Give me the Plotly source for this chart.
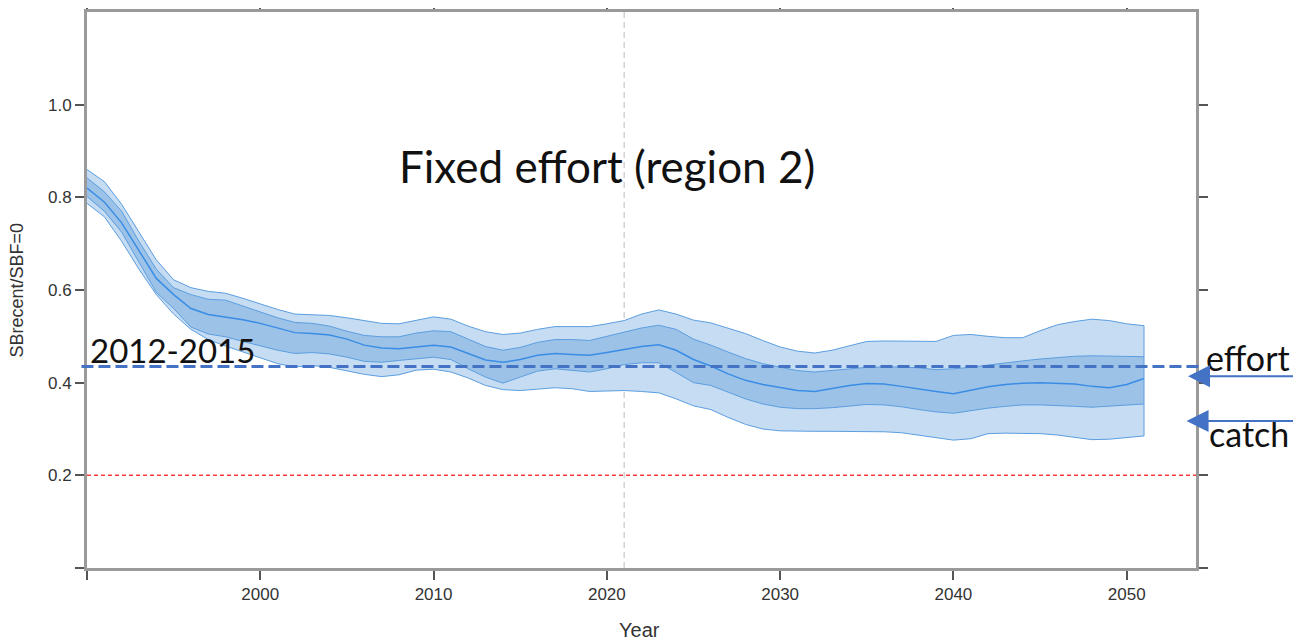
import plotly.graph_objects as go

years = list(range(1990, 2052))

outer_top = [0.860, 0.834, 0.785, 0.725, 0.665, 0.622, 0.605, 0.597, 0.593, 0.582,
             0.570, 0.558, 0.548, 0.546, 0.545, 0.540, 0.534, 0.528, 0.527, 0.535,
             0.542, 0.537, 0.522, 0.510, 0.504, 0.507, 0.515, 0.521, 0.521, 0.521,
             0.527, 0.534, 0.548, 0.557, 0.548, 0.535, 0.529, 0.518, 0.506, 0.491,
             0.477, 0.468, 0.464, 0.470, 0.480, 0.489, 0.490, 0.490, 0.490, 0.489,
             0.502, 0.504, 0.500, 0.497, 0.497, 0.512, 0.525, 0.532, 0.537, 0.534,
             0.527, 0.523]
inner_top = [0.842, 0.812, 0.770, 0.705, 0.645, 0.605, 0.590, 0.580, 0.578, 0.565,
             0.553, 0.540, 0.530, 0.528, 0.522, 0.511, 0.502, 0.499, 0.499, 0.507,
             0.512, 0.510, 0.494, 0.478, 0.470, 0.476, 0.487, 0.493, 0.493, 0.491,
             0.500, 0.509, 0.518, 0.524, 0.515, 0.494, 0.481, 0.466, 0.452, 0.441,
             0.434, 0.426, 0.423, 0.426, 0.429, 0.433, 0.434, 0.434, 0.432, 0.428,
             0.430, 0.433, 0.438, 0.443, 0.447, 0.451, 0.454, 0.457, 0.458, 0.457,
             0.456, 0.456]
median = [0.820, 0.790, 0.745, 0.685, 0.625, 0.590, 0.560, 0.547, 0.542, 0.536,
          0.528, 0.518, 0.508, 0.506, 0.503, 0.494, 0.481, 0.475, 0.473, 0.477,
          0.481, 0.477, 0.463, 0.449, 0.444, 0.450, 0.459, 0.463, 0.461, 0.459,
          0.465, 0.471, 0.478, 0.482, 0.470, 0.450, 0.436, 0.419, 0.405, 0.396,
          0.390, 0.383, 0.381, 0.387, 0.394, 0.398, 0.397, 0.392, 0.386, 0.381,
          0.376, 0.384, 0.391, 0.396, 0.399, 0.400, 0.399, 0.397, 0.392, 0.389,
          0.396, 0.409]
inner_bot = [0.802, 0.770, 0.725, 0.660, 0.595, 0.560, 0.520, 0.505, 0.499, 0.489,
             0.480, 0.470, 0.463, 0.465, 0.462, 0.455, 0.446, 0.444, 0.448, 0.452,
             0.455, 0.450, 0.430, 0.412, 0.399, 0.412, 0.425, 0.430, 0.426, 0.423,
             0.430, 0.439, 0.443, 0.443, 0.422, 0.400, 0.394, 0.380, 0.365, 0.354,
             0.347, 0.344, 0.344, 0.346, 0.350, 0.353, 0.352, 0.348, 0.342, 0.337,
             0.334, 0.340, 0.345, 0.349, 0.352, 0.352, 0.351, 0.349, 0.347, 0.349,
             0.352, 0.354]
outer_bot = [0.787, 0.758, 0.705, 0.645, 0.590, 0.548, 0.515, 0.493, 0.479, 0.466,
             0.453, 0.441, 0.434, 0.437, 0.433, 0.425, 0.418, 0.413, 0.417, 0.427,
             0.429, 0.423, 0.410, 0.394, 0.385, 0.383, 0.386, 0.389, 0.387, 0.381,
             0.382, 0.383, 0.381, 0.378, 0.365, 0.350, 0.342, 0.325, 0.310, 0.300,
             0.296, 0.295, 0.295, 0.295, 0.295, 0.295, 0.294, 0.292, 0.287, 0.282,
             0.276, 0.279, 0.290, 0.291, 0.291, 0.290, 0.287, 0.282, 0.277, 0.278,
             0.281, 0.285]

x_tickvals = [1990, 2000, 2010, 2020, 2030, 2040, 2050]
x_ticktext = ["", "2000", "2010", "2020", "2030", "2040", "2050"]
y_tickvals = [0.0, 0.2, 0.4, 0.6, 0.8, 1.0]
y_ticktext = ["", "0.2", "0.4", "0.6", "0.8", "1.0"]

ref_2012_2015 = 0.435
limit_ref = 0.2
current_year = 2021

OUTER_FILL = "#C6DCF2"
INNER_FILL = "#9DC2E7"
EDGE = "#5B9EE0"
MED = "#3A8DE5"
OFFICE_BLUE = "#4472C4"

fig = go.Figure()
fig.add_trace(go.Scatter(x=years, y=outer_bot, mode="lines",
                         line=dict(color=EDGE, width=1), showlegend=False))
fig.add_trace(go.Scatter(x=years, y=outer_top, mode="lines", fill="tonexty",
                         fillcolor=OUTER_FILL, line=dict(color=EDGE, width=1), showlegend=False))
fig.add_trace(go.Scatter(x=years, y=inner_bot, mode="lines",
                         line=dict(color=EDGE, width=1), showlegend=False))
fig.add_trace(go.Scatter(x=years, y=inner_top, mode="lines", fill="tonexty",
                         fillcolor=INNER_FILL, line=dict(color=EDGE, width=1), showlegend=False))
fig.add_trace(go.Scatter(x=years, y=median, mode="lines",
                         line=dict(color=MED, width=1.5), showlegend=False))
fig.add_trace(go.Scatter(x=[years[-1], years[-1]], y=[outer_bot[-1], outer_top[-1]], mode="lines",
                         line=dict(color=EDGE, width=1), showlegend=False))

fig.add_shape(type="line", xref="x", yref="y", x0=current_year, x1=current_year, y0=0, y1=1.2,
              line=dict(color="#C8C8C8", width=1.2, dash="6px,4px"), layer="below")
fig.add_shape(type="line", xref="paper", yref="y", x0=0, x1=1, y0=limit_ref, y1=limit_ref,
              line=dict(color="#FF3B3B", width=1.5, dash="4px,3px"))
fig.add_shape(type="line", xref="paper", yref="y", x0=-0.005, x1=1.003,
              y0=ref_2012_2015, y1=ref_2012_2015,
              line=dict(color=OFFICE_BLUE, width=3, dash="12px,5px"))

axis_common = dict(showline=True, linecolor="#9A9A9A", linewidth=3, mirror="ticks",
                   ticks="outside", ticklen=9, tickwidth=2, tickcolor="#555555",
                   showgrid=False, zeroline=False, automargin=False,
                   tickfont=dict(family="Liberation Sans", size=17, color="#333333"))

fig.update_xaxes(range=[1990, 2054], tickvals=x_tickvals, ticktext=x_ticktext, **axis_common)
fig.update_yaxes(range=[0, 1.2], tickvals=y_tickvals, ticktext=y_ticktext, **axis_common)

TXT = "#111111"
annotations = [
    dict(text="Fixed effort (region 2)", xref="paper", yref="y", x=0.469, y=0.868,
         xanchor="center", yanchor="middle", showarrow=False,
         font=dict(family="Lato", size=44, color=TXT)),
    dict(text="2012-2015", xref="paper", yref="y", x=0.0775, y=0.470,
         xanchor="center", yanchor="middle", showarrow=False,
         font=dict(family="Lato", size=33, color=TXT)),
    dict(text="effort", xref="paper", yref="y", x=1.0465, y=0.455,
         xanchor="center", yanchor="middle", showarrow=False,
         font=dict(family="Lato", size=34, color=TXT)),
    dict(text="catch", xref="paper", yref="y", x=1.0475, y=0.290,
         xanchor="center", yanchor="middle", showarrow=False,
         font=dict(family="Lato", size=34, color=TXT)),
    dict(text="", xref="paper", yref="y", x=0.9928, y=0.414, ax=125, ay=0,
         showarrow=True, arrowhead=2, arrowsize=2.2, arrowwidth=2, arrowcolor=OFFICE_BLUE),
    dict(text="", xref="paper", yref="y", x=0.9915, y=0.317, ax=125, ay=0,
         showarrow=True, arrowhead=2, arrowsize=2.2, arrowwidth=2, arrowcolor=OFFICE_BLUE),
    dict(text="Year", xref="paper", yref="paper", x=0.498, y=-0.1115,
         xanchor="center", yanchor="middle", showarrow=False,
         font=dict(family="Liberation Sans", size=20, color="#333333")),
    dict(text="SBrecent/SBF=0", xref="paper", yref="paper", x=-0.0635, y=0.5, textangle=-90,
         xanchor="center", yanchor="middle", showarrow=False,
         font=dict(family="Liberation Sans", size=18, color="#333333")),
]

# page body has an 8px default margin, so the figure is sized/offset to compensate
fig.update_layout(width=1293, height=634, margin=dict(l=79, r=105, t=4, b=74),
                  plot_bgcolor="white", paper_bgcolor="white",
                  annotations=annotations, showlegend=False)

fig.write_html("out.html")
